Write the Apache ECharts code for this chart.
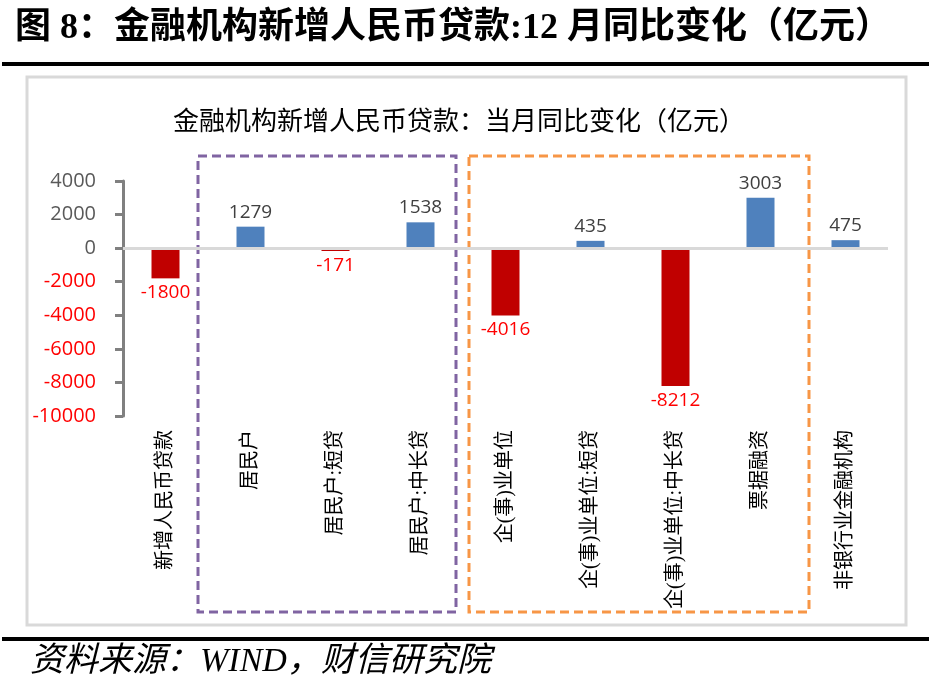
<!DOCTYPE html>
<html>
<head>
<meta charset="utf-8">
<script src="https://cdn.jsdelivr.net/npm/echarts@6/dist/echarts.min.js"></script>
<style>
  html, body { margin: 0; padding: 0; background: #fff; }
  #main { width: 931px; height: 691px; }
</style>
</head>
<body>
<div id="main"></div>
<script>
// categories and values (亿元)
var categories = ['新增人民币贷款', '居民户', '居民户:短贷', '居民户:中长贷', '企(事)业单位',
  '企(事)业单位:短贷', '企(事)业单位:中长贷', '票据融资', '非银行业金融机构'];
var values = [-1800, 1279, -171, 1538, -4016, 435, -8212, 3003, 475];
var yTicks = { min: -10000, max: 4000, interval: 2000 };

var cjk = '"Liberation Serif", "Noto Sans CJK SC", serif';
var num = '"Open Sans", "Noto Sans", sans-serif';

var barData = values.map(function (v) {
  var neg = v < 0;
  return {
    value: v,
    itemStyle: { color: neg ? '#C00000' : '#4F81BD' },
    label: {
      show: true,
      position: neg ? 'bottom' : 'top',
      distance: 5,
      color: neg ? '#FF0000' : '#404040',
      fontSize: 19,
      fontFamily: num
    }
  };
});

var myChart = echarts.init(document.getElementById('main'));
myChart.setOption({
  animation: false,
  backgroundColor: '#fff',
  grid: { left: 123, right: 43, top: 181, bottom: 275 },
  xAxis: {
    type: 'category',
    data: categories,
    axisLine: { show: false, onZero: false },
    axisTick: { show: false },
    axisLabel: {
      rotate: 90,
      margin: 14,
      fontSize: 20,
      color: '#000',
      fontFamily: cjk,
      interval: 0
    }
  },
  yAxis: {
    type: 'value',
    min: yTicks.min,
    max: yTicks.max,
    interval: yTicks.interval,
    axisLine: { show: true, lineStyle: { color: '#808080', width: 3 } },
    axisTick: { show: true, length: 8, lineStyle: { color: '#808080', width: 3 } },
    splitLine: { show: false },
    axisLabel: {
      margin: 27,
      fontSize: 20,
      fontFamily: num,
      formatter: function (v) { return String(v); },
      color: function (v) { return Number(v) < 0 ? '#FF0000' : '#595959'; }
    }
  },
  series: [{
    type: 'bar',
    data: barData,
    barWidth: 28,
    markLine: {
      silent: true,
      symbol: 'none',
      label: { show: false },
      lineStyle: { color: '#D9D9D9', width: 3, type: 'solid' },
      data: [{ yAxis: 0 }]
    }
  }],
  graphic: [
    {
      type: 'text', left: 15, top: 11,
      style: { text: '图 8：金融机构新增人民币贷款:12 月同比变化（亿元）', font: 'bold 36px ' + cjk, fill: '#000' }
    },
    { type: 'rect', shape: { x: 2, y: 62, width: 927, height: 4 }, style: { fill: '#000' } },
    {
      type: 'rect', shape: { x: 27, y: 77, width: 879, height: 548 },
      style: { fill: 'none', stroke: '#D9D9D9', lineWidth: 3 }, z: -1
    },
    {
      type: 'text', x: 459, y: 123,
      style: { text: '金融机构新增人民币贷款：当月同比变化（亿元）', font: '26px ' + cjk, fill: '#000',
        align: 'center', verticalAlign: 'middle' }
    },
    {
      type: 'rect', shape: { x: 198, y: 156, width: 258, height: 456 },
      style: { fill: 'none', stroke: '#8064A2', lineWidth: 3, lineDash: [9, 5] }
    },
    {
      type: 'rect', shape: { x: 469, y: 156, width: 340, height: 456 },
      style: { fill: 'none', stroke: '#F79646', lineWidth: 3, lineDash: [9, 5] }
    },
    { type: 'rect', shape: { x: 2, y: 637, width: 927, height: 4 }, style: { fill: '#000' } },
    {
      type: 'text', left: 30, top: 645,
      style: { text: '资料来源：WIND，财信研究院', font: 'italic 34px ' + cjk, fill: '#000' }
    }
  ]
});

window.addEventListener('resize', function () {
  myChart.resize();
});
</script>
</body>
</html>
